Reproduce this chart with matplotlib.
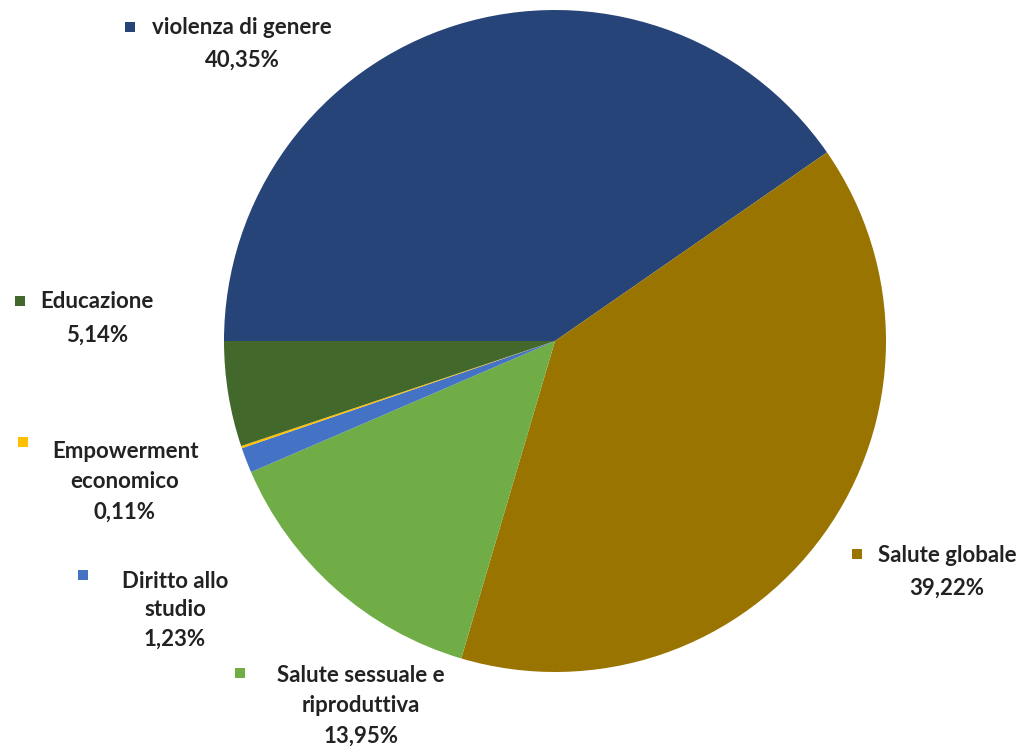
import matplotlib
matplotlib.use("Agg")
import matplotlib.pyplot as plt
from matplotlib.patches import Rectangle

# data (clockwise from 9 o'clock)
categories = ["violenza di genere", "Salute globale", "Salute sessuale e\nriproduttiva",
              "Diritto allo\nstudio", "Empowerment\neconomico", "Educazione"]
values = [40.35, 39.22, 13.95, 1.23, 0.11, 5.14]
colors = ["#264478", "#9A7400", "#70AD47", "#4472C4", "#FFC000", "#43682B"]

W, H = 1029, 746
# label layout in pixel coords: marker (x, y), text centre x, first line y, line step
layout = [
    ((130, 27), 242, 27, 33),
    ((857, 554), 947, 556, 32),
    ((240, 673), 361, 676, 30),
    ((83, 575), 175, 581, 29),
    ((23, 442), 125, 452, 30),
    ((20, 301), 97, 302, 33),
]

plt.rcParams["font.family"] = ["Lato", "DejaVu Sans"]
fig = plt.figure(figsize=(W / 100, H / 100), dpi=100)
ax = fig.add_axes([0, 0, 1, 1])

ax.pie(values, colors=colors, startangle=180, counterclock=False,
       center=(555, H - 341), radius=331,
       wedgeprops=dict(linewidth=0))
ax.set_xlim(0, W)
ax.set_ylim(0, H)
ax.set_aspect("equal")
ax.axis("off")

for cat, val, col, ((mx, my), tx, ty, step) in zip(categories, values, colors, layout):
    ax.add_patch(Rectangle((mx - 5, H - my - 5), 10, 10, color=col, lw=0))
    lines = cat.split("\n") + [f"{val:.2f}%".replace(".", ",")]
    for i, ln in enumerate(lines):
        ax.text(tx, H - (ty + i * step), ln, ha="center", va="center",
                fontsize=16, fontweight="bold", color="#222222")

fig.savefig("out.png", dpi=100, facecolor="white")
